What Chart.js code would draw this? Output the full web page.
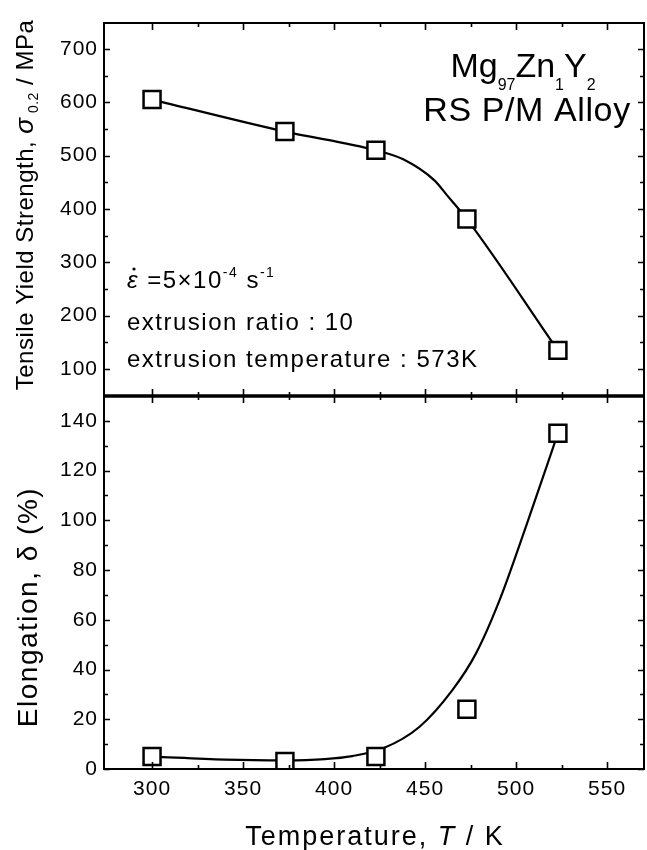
<!DOCTYPE html>
<html>
<head>
<meta charset="utf-8">
<script src="https://cdn.jsdelivr.net/npm/chart.js@4.4.1/dist/chart.umd.min.js"></script>
<style>
  html, body { margin: 0; padding: 0; background: #fff; }
  #wrap { position: relative; width: 647px; height: 850px; }
  #topChart { position: absolute; left: 0; top: 0; }
  #botChart { position: absolute; left: 0; top: 380px; }
</style>
</head>
<body>
<div id="wrap">
  <canvas id="topChart" width="647" height="400"></canvas>
  <canvas id="botChart" width="647" height="470"></canvas>
</div>
<script>
const FONT = "'Liberation Sans', Arial, Helvetica, sans-serif";

// measured points (open squares)
const TEMPERATURE = [300, 373, 423, 473, 523];
const YIELD_STRENGTH = [605, 545, 510, 381, 135];
const ELONGATION = [5, 3, 5, 24, 135];

// hand-drawn fit curves
const YIELD_FIT_T = [300, 373, 423, 438, 455, 462, 473, 523];
const YIELD_FIT = [605, 545, 510, 493, 454, 426, 381, 135];
const ELONG_FIT_T = [300, 340, 373, 395, 410, 427, 447, 465, 478, 491, 506, 523];
const ELONG_FIT = [5, 3.8, 3.5, 4, 5.2, 8.3, 17, 31.7, 46.5, 68, 98.7, 135];

// axes
const X_TICKS = [300, 350, 400, 450, 500, 550];
const X_MINOR = [325, 375, 425, 475, 525];
const YS_TICKS = [100, 200, 300, 400, 500, 600, 700];
const YS_MINOR = [150, 250, 350, 450, 550, 650];
const EL_TICKS = [0, 20, 40, 60, 80, 100, 120, 140];
const EL_MINOR = [10, 30, 50, 70, 90, 110, 130];

const X_MIN = 273.6, X_MAX = 570.3;
const YS_MIN = 49.5, YS_MAX = 748.5;
const EL_MIN = 0, EL_MAX = 150;

const pts = (xs, ys) => xs.map((x, i) => ({ x, y: ys[i] }));

// draws a row of text pieces [text, font, dy]
function drawRuns(ctx, runs, x, y, align) {
  let total = 0;
  runs.forEach(r => { ctx.font = r[1]; total += ctx.measureText(r[0]).width; });
  let cx = align === "center" ? x - total / 2 : align === "right" ? x - total : x;
  const starts = [];
  runs.forEach(r => {
    ctx.font = r[1];
    starts.push(cx);
    ctx.fillText(r[0], cx, y + (r[2] || 0));
    cx += ctx.measureText(r[0]).width;
  });
  return starts;
}

// box + inward ticks on every side
const framePlugin = {
  id: "frame",
  beforeDraw(chart) { chart.ctx.letterSpacing = "1px"; },
  afterDatasetsDraw(chart, args, o) {
    const { ctx, chartArea: a, scales } = chart;
    const xs = scales.x, ys = scales.y;
    ctx.save();
    ctx.letterSpacing = "0px";
    ctx.strokeStyle = "#000";
    ctx.lineWidth = 2;
    ctx.strokeRect(a.left, a.top, a.right - a.left, a.bottom - a.top);
    ctx.lineWidth = 3;
    ctx.beginPath();
    const dy = o.divider === "bottom" ? a.bottom : a.top;
    ctx.moveTo(a.left, dy); ctx.lineTo(a.right, dy);
    ctx.stroke();

    ctx.lineWidth = 1.6;
    ctx.beginPath();
    const tickX = (list, len) => list.forEach(v => {
      const p = Math.round(xs.getPixelForValue(v)) + 0.5;
      ctx.moveTo(p, a.top); ctx.lineTo(p, a.top + len);
      ctx.moveTo(p, a.bottom); ctx.lineTo(p, a.bottom - len);
    });
    const tickY = (list, len) => list.forEach(v => {
      const p = Math.round(ys.getPixelForValue(v)) + 0.5;
      ctx.moveTo(a.left, p); ctx.lineTo(a.left + len, p);
      ctx.moveTo(a.right, p); ctx.lineTo(a.right - len, p);
    });
    tickX(X_TICKS, 7); tickX(X_MINOR, 4);
    tickY(o.yMajor, 6); tickY(o.yMinor, 4);
    ctx.stroke();
    ctx.restore();
  }
};

function scalesFor(yMin, yMax, yTicks, showX) {
  const x = {
    type: "linear", min: X_MIN, max: X_MAX, display: showX,
    afterBuildTicks: s => { s.ticks = X_TICKS.map(v => ({ value: v })); },
    grid: { display: false, drawTicks: false }, border: { display: false },
    ticks: { color: "#000", font: { family: FONT, size: 21 }, padding: 8, maxRotation: 0, autoSkip: false }
  };
  if (showX) x.afterFit = s => { s.height = 81; s.paddingLeft = 0; s.paddingRight = 0; };
  return {
    x,
    y: {
      type: "linear", min: yMin, max: yMax,
      afterBuildTicks: s => { s.ticks = yTicks.map(v => ({ value: v })); },
      afterFit: s => { s.width = 104; s.paddingTop = 0; s.paddingBottom = 0; },
      grid: { display: false, drawTicks: false }, border: { display: false },
      ticks: { color: "#000", font: { family: FONT, size: 21 }, padding: 6, autoSkip: false }
    }
  };
}

function markerSet(data) {
  return {
    data, showLine: false, pointStyle: "rect", pointRadius: 12, pointHoverRadius: 12,
    pointBackgroundColor: "#fff", pointBorderColor: "#000", pointBorderWidth: 2.5
  };
}
function fitSet(data) {
  return {
    data, showLine: true, borderColor: "#000", borderWidth: 2.2, pointRadius: 0,
    cubicInterpolationMode: "monotone", fill: false
  };
}

const common = {
  responsive: false, animation: false,
  events: [],
  plugins: { legend: { display: false }, tooltip: { enabled: false } }
};

// top panel: yield strength
const topText = {
  id: "topText",
  afterDraw(chart) {
    const ctx = chart.ctx;
    ctx.save();
    ctx.fillStyle = "#000";
    ctx.textBaseline = "alphabetic";

    ctx.letterSpacing = "0.5px";
    ctx.translate(33, 205);
    ctx.rotate(-Math.PI / 2);
    drawRuns(ctx, [
      ["Tensile Yield Strength, ", "24px " + FONT],
      ["\u03C3", "italic 26px " + FONT],
      [" 0.2", "14px " + FONT, 5],
      [" / MPa", "24px " + FONT]
    ], 0, 0, "center");
    ctx.setTransform(1, 0, 0, 1, 0, 0);

    ctx.letterSpacing = "0px";
    drawRuns(ctx, [
      ["Mg", "34px " + FONT], ["97", "16px " + FONT, 13],
      ["Zn", "34px " + FONT], ["1", "16px " + FONT, 13],
      ["Y", "34px " + FONT], ["2", "16px " + FONT, 13]
    ], 523, 77, "center");
    ctx.letterSpacing = "0.6px";
    drawRuns(ctx, [["RS P/M Alloy", "34px " + FONT]], 527, 121, "center");

    ctx.letterSpacing = "1.5px";
    const st = drawRuns(ctx, [
      ["\u03B5", "italic 24px " + FONT],
      [" =5\u00D710", "24px " + FONT],
      ["-4", "14px " + FONT, -11],
      [" s", "24px " + FONT],
      ["-1", "14px " + FONT, -11]
    ], 127, 288, "left");
    ctx.beginPath();
    ctx.arc(st[0] + 7, 269, 1.6, 0, Math.PI * 2);
    ctx.fill();
    ctx.font = "24px " + FONT;
    ctx.fillText("extrusion ratio : 10", 127, 330);
    ctx.fillText("extrusion temperature : 573K", 127, 367);
    ctx.restore();
  }
};

new Chart(document.getElementById("topChart"), {
  type: "scatter",
  data: { datasets: [markerSet(pts(TEMPERATURE, YIELD_STRENGTH)), fitSet(pts(YIELD_FIT_T, YIELD_FIT))] },
  options: Object.assign({}, common, {
    layout: { autoPadding: false, padding: { top: 23, bottom: 4, left: 0, right: 3 } },
    scales: scalesFor(YS_MIN, YS_MAX, YS_TICKS, false),
    plugins: Object.assign({}, common.plugins, { frame: { yMajor: YS_TICKS, yMinor: YS_MINOR, divider: "bottom" } })
  }),
  plugins: [framePlugin, topText]
});

// bottom panel: elongation
const botText = {
  id: "botText",
  afterDraw(chart) {
    const ctx = chart.ctx;
    ctx.save();
    ctx.fillStyle = "#000";
    ctx.textBaseline = "alphabetic";
    ctx.letterSpacing = "1.5px";
    ctx.translate(37, 227);
    ctx.rotate(-Math.PI / 2);
    drawRuns(ctx, [
      ["Elongation, ", "28px " + FONT],
      ["\u03B4", "28px " + FONT],
      [" (%)", "28px " + FONT]
    ], 0, 0, "center");
    ctx.setTransform(1, 0, 0, 1, 0, 0);

    ctx.letterSpacing = "2px";
    drawRuns(ctx, [
      ["Temperature, ", "27px " + FONT],
      ["T", "italic 27px " + FONT],
      [" / K", "27px " + FONT]
    ], 375, 465, "center");
    ctx.restore();
  }
};

new Chart(document.getElementById("botChart"), {
  type: "scatter",
  data: { datasets: [markerSet(pts(TEMPERATURE, ELONGATION)), fitSet(pts(ELONG_FIT_T, ELONG_FIT))] },
  options: Object.assign({}, common, {
    layout: { autoPadding: false, padding: { top: 16, bottom: 0, left: 0, right: 3 } },
    scales: scalesFor(EL_MIN, EL_MAX, EL_TICKS, true),
    plugins: Object.assign({}, common.plugins, { frame: { yMajor: EL_TICKS, yMinor: EL_MINOR, divider: "top" } })
  }),
  plugins: [framePlugin, botText]
});
</script>
</body>
</html>
